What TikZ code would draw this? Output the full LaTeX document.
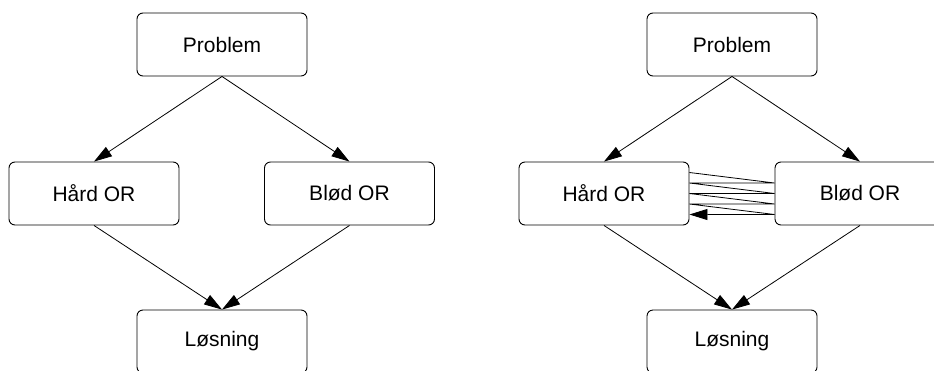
\documentclass[tikz,border=0pt]{standalone}
\usepackage{fontspec}
\setmainfont{Liberation Sans}
\usetikzlibrary{arrows.meta}
\begin{document}
\begin{tikzpicture}[x=1pt,y=-1pt,
  box/.style={draw,line width=0.9pt,rounded corners=6pt,minimum width=170pt,minimum height=63pt,
    inner sep=0pt,font=\fontsize{21}{25}\selectfont},
  flow/.style={line width=0.8pt,-{Triangle[length=18pt,width=11pt]}}]
\clip (0,0) rectangle (934,370);
% left: the plain split into two branches
\node[box] (p1) at (222,44.5) {Problem};
\node[box] (h1) at (94,193.5) {Hård OR};
\node[box] (b1) at (349.5,193.5) {Blød OR};
\node[box] (l1) at (222,341.5) {Løsning};
\draw[flow] (p1.south) -- (h1.north);
\draw[flow] (p1.south) -- (b1.north);
\draw[flow] (h1.south) -- (l1.north);
\draw[flow] (b1.south) -- (l1.north);
% right: the same split, with a back-and-forth between the branches
\node[box] (p2) at (732,44.5) {Problem};
\node[box] (h2) at (604,193.5) {Hård OR};
\node[box] (b2) at (860,193.5) {Blød OR};
\node[box] (l2) at (732,341.5) {Løsning};
\draw[flow] (p2.south) -- (h2.north);
\draw[flow] (p2.south) -- (b2.north);
\draw[flow] (h2.south) -- (l2.north);
\draw[flow] (b2.south) -- (l2.north);
\draw[flow] ([yshift=21pt]h2.east) -- ([yshift=10.5pt]b2.west)
  -- ([yshift=10.5pt]h2.east) -- (b2.west)
  -- (h2.east) -- ([yshift=-10.5pt]b2.west)
  -- ([yshift=-10.5pt]h2.east) -- ([yshift=-21pt]b2.west)
  -- ([yshift=-21pt]h2.east);
\end{tikzpicture}
\end{document}
